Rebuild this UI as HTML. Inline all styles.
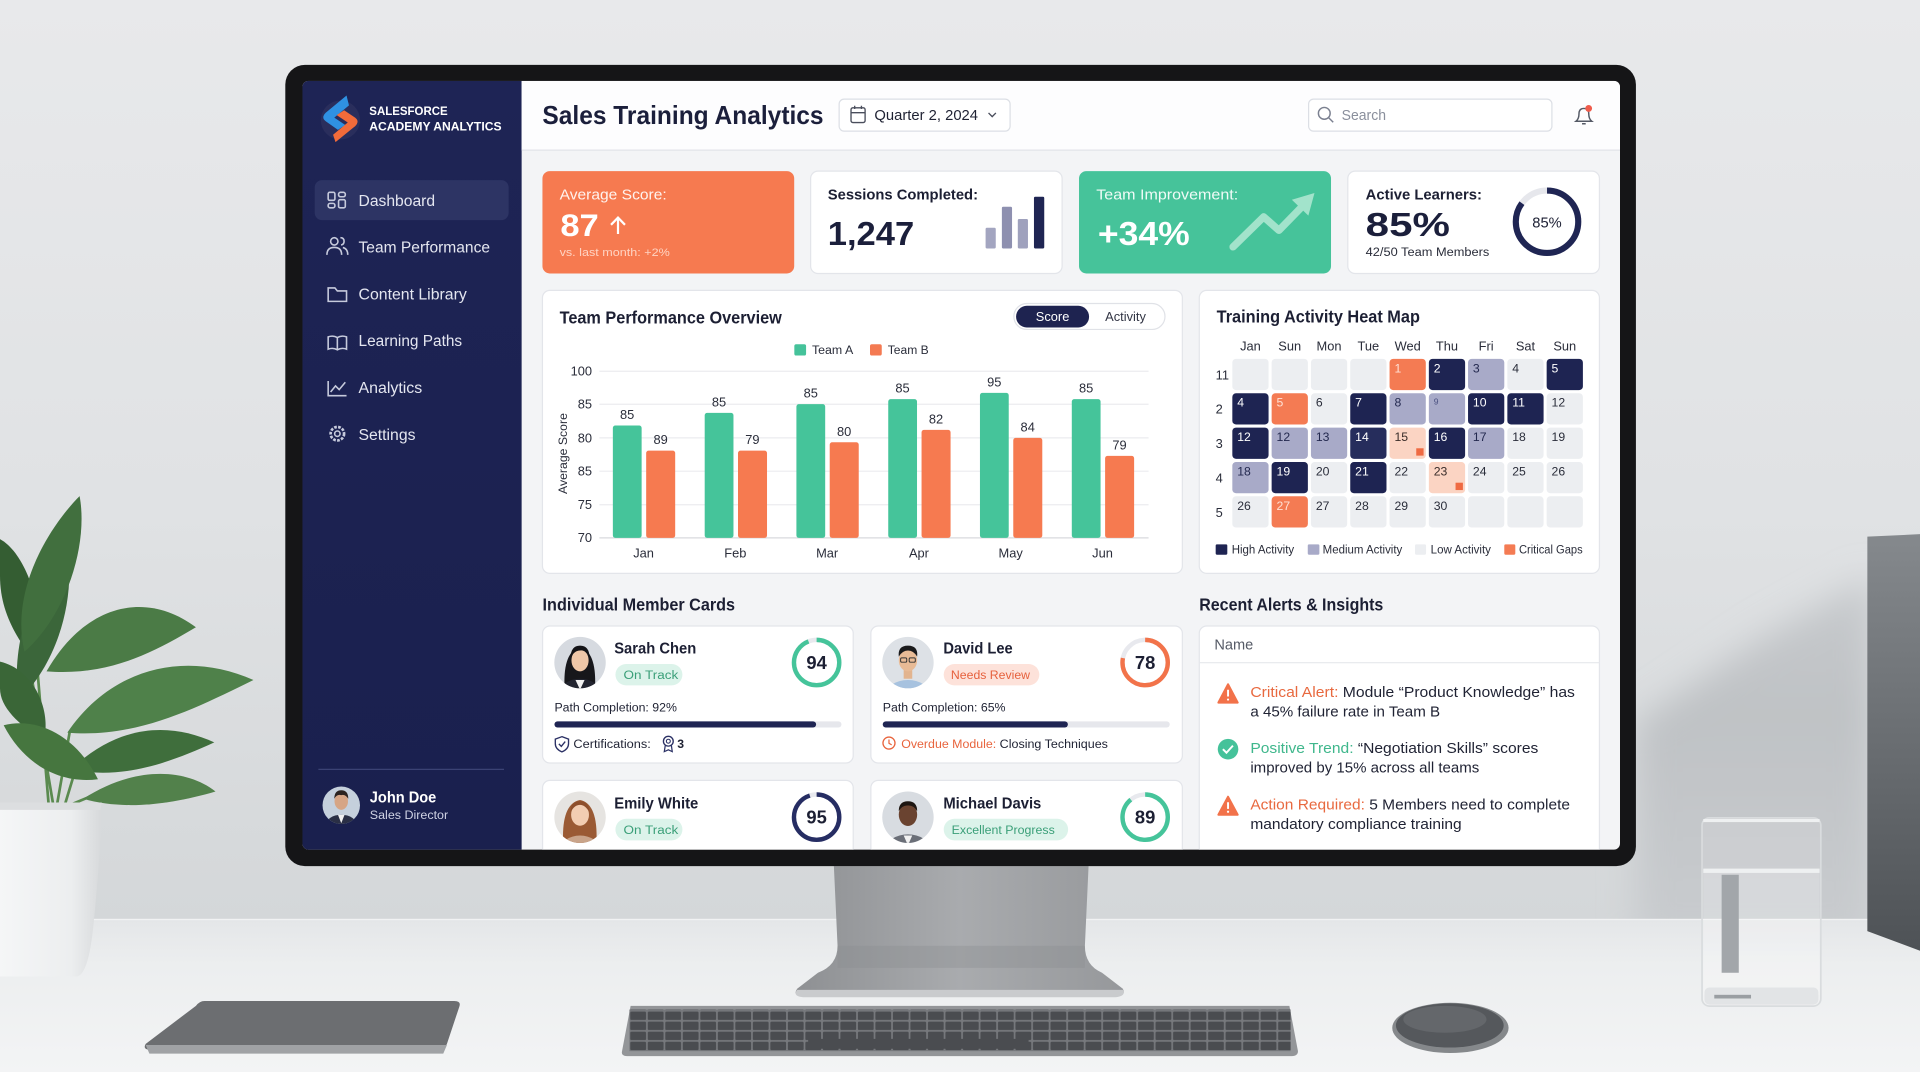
<!DOCTYPE html>
<html><head><meta charset="utf-8"><title>Sales Training Analytics</title>
<style>
html,body{margin:0;padding:0;background:#e4e6e8;overflow:hidden;width:1920px;height:1072px}
svg{display:block}
text{font-family:"Liberation Sans",Arial,sans-serif}
</style></head><body>
<svg width="1920" height="1072" viewBox="0 0 1568 875" preserveAspectRatio="none" xmlns="http://www.w3.org/2000/svg">
<defs>
 <linearGradient id="wall" x1="0" y1="0" x2="0" y2="1">
  <stop offset="0" stop-color="#e8e9eb"/><stop offset="0.55" stop-color="#e0e2e4"/><stop offset="1" stop-color="#d4d7d9"/>
 </linearGradient>
 <linearGradient id="desk" x1="0" y1="0" x2="0" y2="1">
  <stop offset="0" stop-color="#e4e6e8"/><stop offset="0.3" stop-color="#eceeef"/><stop offset="1" stop-color="#f3f4f5"/>
 </linearGradient>
 <linearGradient id="shadowR" gradientUnits="userSpaceOnUse" x1="0" y1="470" x2="0" y2="750">
  <stop offset="0" stop-color="#c7cacd"/><stop offset="0.4" stop-color="#bfc2c5"/><stop offset="1" stop-color="#c8cbce"/>
 </linearGradient>
 <filter id="blur" x="-20%" y="-20%" width="140%" height="140%"><feGaussianBlur stdDeviation="14"/></filter>
 <linearGradient id="box" x1="0" y1="0" x2="0" y2="1">
  <stop offset="0" stop-color="#85898d"/><stop offset="1" stop-color="#4e5256"/>
 </linearGradient>
 <linearGradient id="stand" x1="0" y1="0" x2="1" y2="0">
  <stop offset="0" stop-color="#8e9093"/><stop offset="0.5" stop-color="#a9abae"/><stop offset="1" stop-color="#96989b"/>
 </linearGradient>
 <linearGradient id="side" x1="0" y1="0" x2="0" y2="1">
  <stop offset="0" stop-color="#1e2455"/><stop offset="1" stop-color="#1a204e"/>
 </linearGradient>
 <linearGradient id="pot" x1="0" y1="0" x2="1" y2="0">
  <stop offset="0" stop-color="#f5f6f7"/><stop offset="0.7" stop-color="#eceeef"/><stop offset="1" stop-color="#d7d9db"/>
 </linearGradient>
 <pattern id="keys" width="14.3" height="8.2" patternUnits="userSpaceOnUse" x="514" y="825">
  <rect width="14.3" height="8.2" fill="#77797d"/><rect x="0.7" y="0.7" width="12.9" height="6.8" rx="1" fill="#4a4c50"/>
 </pattern>
 <clipPath id="scr"><rect x="247" y="66" width="1076" height="627.5" rx="5"/></clipPath>
 <clipPath id="av1"><circle cx="473.7" cy="540.8" r="21"/></clipPath>
 <clipPath id="av2"><circle cx="741.5" cy="540.8" r="21"/></clipPath>
 <clipPath id="av3"><circle cx="473.7" cy="667" r="21"/></clipPath>
 <clipPath id="av4"><circle cx="741.5" cy="667" r="21"/></clipPath>
 <clipPath id="av5"><circle cx="278.7" cy="657.3" r="15.3"/></clipPath>
 <clipPath id="wallclip"><rect x="0" y="0" width="1568" height="751"/></clipPath>
</defs>

<!-- background scene -->
<rect x="0" y="0" width="1568" height="751" fill="url(#wall)"/>
<g clip-path="url(#wallclip)">
 <path d="M1336,590 L1440,520 L1530,470 L1530,770 L1336,770 Z" fill="url(#shadowR)" filter="url(#blur)"/>
</g>
<rect x="0" y="750" width="1568" height="125" fill="url(#desk)"/>
<line x1="0" y1="750.5" x2="1568" y2="750.5" stroke="#f1f2f3" stroke-width="1"/>
<path d="M1525,438 L1568,436 L1568,776 L1525,760 Z" fill="url(#box)"/>

<!-- plant -->
<g>
 <path d="M40,660 L30,540 M46,660 L57,597 M52,660 L62,627 M44,660 L22,530 M50,660 L74,650" stroke="#5a8a4f" stroke-width="2.2" fill="none"/>
 <path d="M0,440 C22,452 38,500 32,545 C14,522 0,500 0,470 Z" fill="#345d32"/>
 <path d="M15,572 C8,520 30,470 55,445 C62,492 46,542 15,572 Z" fill="#3b663a"/>
 <path d="M20,532 C8,482 40,430 65,405 C72,442 56,500 20,532 Z" fill="#416f3e"/>
 <path d="M38,548 C70,492 120,482 160,512 C126,532 90,552 38,548 Z" fill="#4b7b46"/>
 <path d="M0,540 C26,546 42,577 36,604 C15,592 0,577 0,562 Z" fill="#3a6637"/>
 <path d="M55,598 C90,546 150,530 207,555 C162,577 112,603 55,598 Z" fill="#4f814a"/>
 <path d="M58,628 C98,590 140,590 175,606 C140,622 100,637 58,628 Z" fill="#3f6e3c"/>
 <path d="M3,592 C30,585 62,600 80,636 C50,640 20,625 3,592 Z" fill="#46763f"/>
 <path d="M68,652 C108,626 150,626 176,646 C142,656 102,662 68,652 Z" fill="#52814b"/>
 <path d="M0,655 L83,655 Q82,700 76,758 Q72,795 63,797 L0,797 Z" fill="url(#pot)"/>
 <path d="M0,655 L83,655 L82,661 L0,661 Z" fill="#dcdee0"/>
</g>

<!-- tablet -->
<path d="M167,817 L371,817 Q377,817 375,822 L365,852 Q363,857 357,857 L124,857 Q116,857 119,852 L160,821 Q163,817 167,817 Z" fill="#6c6e71"/>
<path d="M119,853 L365,853 L362,860 L122,860 Z" fill="#a0a2a5"/>

<!-- monitor stand -->
<path d="M681,707 L889,707 L886,772 Q886,788 900,794 L917,807 Q920,813 911,813 L656,813 Q647,813 651,807 L668,794 Q684,788 684,772 Z" fill="url(#stand)"/>
<path d="M651,808 L917,808 Q920,813 911,814 L656,814 Q647,813 651,808 Z" fill="#c9cbcd"/>
<rect x="684" y="772" width="202" height="18" fill="#8a8c8f" opacity="0.35"/>

<!-- keyboard -->
<path d="M515,821 L1053,821 L1060,858 Q1060,862 1055,862 L512,862 Q507,862 508,858 Z" fill="#939598"/>
<rect x="514" y="824" width="540" height="34" fill="url(#keys)"/>
<rect x="660" y="848" width="180" height="8" rx="1" fill="#4a4c50"/>

<!-- mouse -->
<ellipse cx="1184.5" cy="839" rx="47.5" ry="20.5" fill="#85888b"/>
<ellipse cx="1184" cy="837" rx="44" ry="18" fill="#55585c"/>
<ellipse cx="1180" cy="832" rx="34" ry="11" fill="#64676b"/>

<!-- glass -->
<rect x="1390" y="667.6" width="97" height="153.6" rx="6" fill="#ffffff" fill-opacity="0.12" stroke="#d9dcde" stroke-width="1.4"/>
<rect x="1391" y="712" width="95" height="100" fill="#ffffff" fill-opacity="0.18"/>
<rect x="1406" y="714" width="14" height="80" fill="#a2a6aa"/>
<rect x="1391" y="709" width="95" height="3.5" fill="#eef0f1"/>
<rect x="1391" y="668.5" width="95" height="2.5" fill="#eef0f1"/>
<rect x="1392" y="806" width="93" height="14" rx="4" fill="#e2e4e6"/>
<rect x="1400" y="812" width="30" height="3" fill="#9a9ea2"/>

<!-- monitor bezel -->
<rect x="233" y="53" width="1103" height="654" rx="16" fill="#151517"/>

<g clip-path="url(#scr)">
 <rect x="247" y="66" width="1076" height="628" fill="#f3f4f6"/>
 <!-- sidebar -->
 <rect x="247" y="66" width="179" height="628" fill="url(#side)"/>
 <circle cx="278" cy="98" r="16" fill="#2a2e5c"/>
 <path d="M283,78 L266,92 Q262,96 266,99 L276,106 L282,102 L273,96 L285,86 Z" fill="#2f91e2"/>
 <path d="M274,116 L290,103 Q294,99 290,96 L281,90 L275,94 L284,100 L272,110 Z" fill="#f26b3a"/>
 <text x="301.6" y="93.9" font-size="10" font-weight="700" fill="#ffffff" textLength="64" lengthAdjust="spacingAndGlyphs">SALESFORCE</text>
 <text x="301.6" y="106.4" font-size="10" font-weight="700" fill="#ffffff" textLength="108" lengthAdjust="spacingAndGlyphs">ACADEMY ANALYTICS</text>

 <rect x="257" y="147" width="158.4" height="32.7" rx="6" fill="#2d3464"/>
 <g fill="none" stroke="#c6cadc" stroke-width="1.3">
  <rect x="268" y="157" width="5.5" height="6.5" rx="1.2"/><rect x="276.5" y="157" width="5.5" height="3.6" rx="1.5"/>
  <rect x="268" y="166" width="5.5" height="3.6" rx="1.5"/><rect x="276.5" y="163" width="5.5" height="6.6" rx="1.2"/>
  <circle cx="273" cy="197" r="3"/><path d="M267,208 Q267,202 273,202 Q279,202 279,208"/><path d="M278,194 Q281,194 281,197 Q281,199.5 278.5,200 M280,202 Q284,203 284,208"/>
  <path d="M268,235 L273.5,235 L275.5,237.5 L283,237.5 L283,246 L268,246 Z"/>
  <path d="M268,275 L268,285 Q272,283.5 275.5,285.5 Q279,283.5 283,285 L283,275 Q279,273.5 275.5,275.5 Q272,273.5 268,275 Z M275.5,275.5 L275.5,285.5"/>
  <path d="M268,311 L268,323 L283,323 M270,320 L274,315 L277,318 L282,312"/>
  <circle cx="275.5" cy="354" r="2.2"/><circle cx="275.5" cy="354" r="5.5" stroke-dasharray="2.2 1.1" stroke-width="2.2"/>
 </g>
 <g font-size="13" fill="#e4e6f0">
  <text x="292.8" y="168" textLength="62.5" lengthAdjust="spacingAndGlyphs">Dashboard</text>
  <text x="292.8" y="206.3" textLength="107.4" lengthAdjust="spacingAndGlyphs">Team Performance</text>
  <text x="292.8" y="244.4" textLength="88.4" lengthAdjust="spacingAndGlyphs">Content Library</text>
  <text x="292.8" y="282.6" textLength="84.6" lengthAdjust="spacingAndGlyphs">Learning Paths</text>
  <text x="292.8" y="320.8" textLength="52" lengthAdjust="spacingAndGlyphs">Analytics</text>
  <text x="292.8" y="359" textLength="46.5" lengthAdjust="spacingAndGlyphs">Settings</text>
 </g>
 <line x1="260" y1="628" x2="411.6" y2="628" stroke="#3b4274" stroke-width="1"/>
 <g clip-path="url(#av5)">
  <rect x="262" y="641" width="34" height="34" fill="#c5d0dc"/>
  <ellipse cx="278.7" cy="674" rx="13" ry="9" fill="#2a2f45"/>
  <path d="M276,665 L278.7,672 L281.4,665 Z" fill="#f0f0f0"/>
  <ellipse cx="278.7" cy="654" rx="5.5" ry="7" fill="#d6a585"/>
  <path d="M273,652 Q273,645 278.7,645 Q284.5,645 284.4,652 Q282,648 278.7,649 Q275,648 273,652 Z" fill="#2b2320"/>
 </g>
 <text x="302" y="655" font-size="12.5" font-weight="700" fill="#ffffff" textLength="54.3" lengthAdjust="spacingAndGlyphs">John Doe</text>
 <text x="302" y="668.5" font-size="10" fill="#d0d3e4" textLength="64" lengthAdjust="spacingAndGlyphs">Sales Director</text>

 <!-- header -->
 <rect x="426" y="66" width="897" height="56.5" fill="#fdfdfe"/>
 <line x1="426" y1="122.5" x2="1323" y2="122.5" stroke="#e2e4e9" stroke-width="1"/>
 <text x="443" y="101.3" font-size="21" font-weight="700" fill="#1b1f3b" textLength="229.6" lengthAdjust="spacingAndGlyphs">Sales Training Analytics</text>
 <rect x="685.3" y="80.9" width="139.6" height="26.1" rx="4" fill="#fff" stroke="#dcdfe5"/>
 <g fill="none" stroke="#4a4e5c" stroke-width="1.1">
  <rect x="695" y="88" width="11.5" height="12" rx="1.5"/><line x1="695" y1="92" x2="706.5" y2="92"/><line x1="698" y1="86.3" x2="698" y2="89"/><line x1="703.5" y1="86.3" x2="703.5" y2="89"/>
  <polyline points="807.3,92.2 810.3,95.2 813.3,92.2"/>
 </g>
 <text x="714.1" y="98" font-size="12" fill="#1f2233" textLength="84.6" lengthAdjust="spacingAndGlyphs">Quarter 2, 2024</text>
 <rect x="1068.7" y="80.9" width="198.7" height="26.1" rx="4" fill="#fff" stroke="#dcdfe5"/>
 <circle cx="1081.5" cy="92.5" r="4.8" fill="none" stroke="#7b8090" stroke-width="1.2"/>
 <line x1="1085" y1="96" x2="1088.8" y2="99.8" stroke="#7b8090" stroke-width="1.2"/>
 <text x="1095.7" y="98" font-size="12" fill="#8a8f9c" textLength="36.2" lengthAdjust="spacingAndGlyphs">Search</text>
 <path d="M1287,99 Q1289.5,97 1289.5,93 Q1289.5,88.5 1293.5,88.5 Q1297.5,88.5 1297.5,93 Q1297.5,97 1300,99 Z M1292,101 L1295,101" fill="none" stroke="#555a66" stroke-width="1.2"/>
 <circle cx="1297.4" cy="88.5" r="2.8" fill="#ef5b4b"/>

 <!-- KPI cards -->
 <rect x="443" y="139.7" width="205.6" height="83.5" rx="6" fill="#f67a50"/>
 <text x="457" y="162.8" font-size="12" fill="#fff3ee" textLength="87.5" lengthAdjust="spacingAndGlyphs">Average Score:</text>
 <text x="457.6" y="192.5" font-size="26" font-weight="700" fill="#ffffff" textLength="31.4" lengthAdjust="spacingAndGlyphs">87</text>
 <g stroke="#fff" stroke-width="1.8" fill="none"><line x1="504.7" y1="191" x2="504.7" y2="178"/><polyline points="499,183.5 504.7,177.6 510.4,183.5"/></g>
 <text x="457" y="209" font-size="9" fill="#ffd3c2" textLength="90" lengthAdjust="spacingAndGlyphs">vs. last month: +2%</text>

 <rect x="662" y="139.7" width="205.4" height="83.5" rx="6" fill="#fff" stroke="#e3e5ea"/>
 <text x="676" y="162.8" font-size="12" font-weight="700" fill="#1c1f33" textLength="122.7" lengthAdjust="spacingAndGlyphs">Sessions Completed:</text>
 <text x="676" y="200" font-size="27" font-weight="700" fill="#1b1f3b" textLength="70.6" lengthAdjust="spacingAndGlyphs">1,247</text>
 <rect x="804.9" y="185.9" width="8.3" height="16.9" rx="1" fill="#a3a5c0"/>
 <rect x="818.2" y="168.8" width="8.3" height="34" rx="1" fill="#8e90b0"/>
 <rect x="831.2" y="178.8" width="8.3" height="24" rx="1" fill="#9fa1bd"/>
 <rect x="844.4" y="160.6" width="8.4" height="42.2" rx="1" fill="#1f2553"/>

 <rect x="881.2" y="139.7" width="205.8" height="83.5" rx="6" fill="#46c39a"/>
 <text x="895.3" y="162.8" font-size="12" fill="#f0fbf7" textLength="115.9" lengthAdjust="spacingAndGlyphs">Team Improvement:</text>
 <text x="896.6" y="200" font-size="27" font-weight="700" fill="#ffffff" textLength="75" lengthAdjust="spacingAndGlyphs">+34%</text>
 <polyline points="1007,201.5 1032,177 1044.5,188 1065,167" fill="none" stroke="#a2e3cb" stroke-width="6" stroke-linejoin="round" stroke-linecap="round"/>
 <polygon points="1073.5,157.5 1055,163 1068.5,176" fill="#a2e3cb"/>

 <rect x="1100.7" y="139.7" width="205.5" height="83.5" rx="6" fill="#fff" stroke="#e3e5ea"/>
 <text x="1115.3" y="162.8" font-size="12" font-weight="700" fill="#1c1f33" textLength="95" lengthAdjust="spacingAndGlyphs">Active Learners:</text>
 <text x="1115.3" y="192.5" font-size="27" font-weight="700" fill="#1b1f3b" textLength="68.8" lengthAdjust="spacingAndGlyphs">85%</text>
 <text x="1115.3" y="209" font-size="10" fill="#2a2d3a" textLength="101" lengthAdjust="spacingAndGlyphs">42/50 Team Members</text>
 <circle cx="1263.4" cy="181" r="25.5" fill="none" stroke="#e6e7ec" stroke-width="5"/>
 <circle cx="1263.4" cy="181" r="25.5" fill="none" stroke="#1f2553" stroke-width="5" stroke-dasharray="136.2 200" transform="rotate(-90 1263.4 181)"/>
 <text x="1263.4" y="185.5" font-size="12" fill="#1c1f33" text-anchor="middle">85%</text>

 <!-- chart panel -->
 <rect x="443" y="237" width="522.6" height="231" rx="6" fill="#fff" stroke="#e3e5ea"/>
 <text x="457" y="264" font-size="14.5" font-weight="700" fill="#1c1f33" textLength="181.5" lengthAdjust="spacingAndGlyphs">Team Performance Overview</text>
 <rect x="828" y="247.7" width="123.4" height="21.2" rx="10.6" fill="#fff" stroke="#e0e2e7"/>
 <rect x="829.8" y="249.6" width="59.6" height="17.7" rx="8.8" fill="#1e2350"/>
 <text x="859.6" y="262" font-size="10.5" fill="#fff" text-anchor="middle">Score</text>
 <text x="919.2" y="262" font-size="10.5" fill="#333645" text-anchor="middle">Activity</text>
 <rect x="648.7" y="281" width="9.6" height="9.2" rx="1.5" fill="#45c29a"/>
 <text x="663.1" y="289" font-size="10" fill="#2a2d3a" textLength="33.7" lengthAdjust="spacingAndGlyphs">Team A</text>
 <rect x="710.5" y="281" width="9.6" height="9.2" rx="1.5" fill="#f47a52"/>
 <text x="725" y="289" font-size="10" fill="#2a2d3a" textLength="33.4" lengthAdjust="spacingAndGlyphs">Team B</text>
 <g stroke="#ebecef" stroke-width="1">
  <line x1="489.5" y1="303" x2="938" y2="303"/><line x1="489.5" y1="330" x2="938" y2="330"/>
  <line x1="489.5" y1="357.4" x2="938" y2="357.4"/><line x1="489.5" y1="384.6" x2="938" y2="384.6"/>
  <line x1="489.5" y1="412" x2="938" y2="412"/><line x1="489.5" y1="439" x2="938" y2="439" stroke="#d8dade"/>
 </g>
 <g font-size="10.5" fill="#2a2d3a" text-anchor="end">
  <text x="483.5" y="306.5">100</text><text x="483.5" y="333.5">85</text><text x="483.5" y="361">80</text>
  <text x="483.5" y="388">85</text><text x="483.5" y="415.5">75</text><text x="483.5" y="442.5">70</text>
 </g>
 <text transform="translate(463.2,370.2) rotate(-90)" font-size="10" fill="#2a2d3a" text-anchor="middle" textLength="66" lengthAdjust="spacingAndGlyphs">Average Score</text>
 <g fill="#45c49a">
  <rect x="500.5" y="347.3" width="23.5" height="91.7" rx="2"/>
  <rect x="575.5" y="337" width="23.5" height="102" rx="2"/>
  <rect x="650.4" y="329.9" width="23.5" height="109.1" rx="2"/>
  <rect x="725.4" y="325.8" width="23.5" height="113.2" rx="2"/>
  <rect x="800.3" y="320.7" width="23.5" height="118.3" rx="2"/>
  <rect x="875.3" y="325.8" width="23.5" height="113.2" rx="2"/>
 </g>
 <g fill="#f67a50">
  <rect x="527.7" y="367.8" width="23.7" height="71.2" rx="2"/>
  <rect x="602.7" y="367.8" width="23.7" height="71.2" rx="2"/>
  <rect x="677.6" y="361" width="23.7" height="78" rx="2"/>
  <rect x="752.6" y="350.9" width="23.7" height="88.1" rx="2"/>
  <rect x="827.5" y="357.4" width="23.7" height="81.6" rx="2"/>
  <rect x="902.5" y="372.1" width="23.7" height="66.9" rx="2"/>
 </g>
 <g font-size="10.5" fill="#2a2d3a" text-anchor="middle">
  <text x="512.2" y="342">85</text><text x="539.5" y="362.5">89</text>
  <text x="587.2" y="331.7">85</text><text x="614.5" y="362.5">79</text>
  <text x="662.1" y="324.6">85</text><text x="689.4" y="355.7">80</text>
  <text x="737.1" y="320.5">85</text><text x="764.4" y="345.6">82</text>
  <text x="812" y="315.4">95</text><text x="839.3" y="352.1">84</text>
  <text x="887" y="320.5">85</text><text x="914.3" y="366.8">79</text>
  <text x="525.6" y="455">Jan</text><text x="600.5" y="455">Feb</text><text x="675.5" y="455">Mar</text>
  <text x="750.5" y="455">Apr</text><text x="825.4" y="455">May</text><text x="900.4" y="455">Jun</text>
 </g>

 <!-- heatmap panel -->
 <rect x="979.4" y="237" width="326.8" height="231" rx="6" fill="#fff" stroke="#e3e5ea"/>
 <text x="993.6" y="263.2" font-size="14.5" font-weight="700" fill="#1c1f33" textLength="166" lengthAdjust="spacingAndGlyphs">Training Activity Heat Map</text>
 <g font-size="10.5" fill="#2a2d3a" text-anchor="middle">
  <text x="1021.2" y="286">Jan</text><text x="1053.3" y="286">Sun</text><text x="1085.4" y="286">Mon</text>
  <text x="1117.5" y="286">Tue</text><text x="1149.6" y="286">Wed</text><text x="1181.7" y="286">Thu</text>
  <text x="1213.7" y="286">Fri</text><text x="1245.8" y="286">Sat</text><text x="1277.9" y="286">Sun</text>
 </g>
 <g font-size="10.5" fill="#2a2d3a">
  <text x="992.8" y="309.6">11</text><text x="992.8" y="337.7">2</text><text x="992.8" y="365.7">3</text>
  <text x="992.8" y="393.8">4</text><text x="992.8" y="421.8">5</text>
 </g>
 <g>
  <rect x="1006.4" y="292.9" width="29.6" height="25.5" rx="3" fill="#eceef1"/>
  <rect x="1038.5" y="292.9" width="29.6" height="25.5" rx="3" fill="#eceef1"/>
  <rect x="1070.6" y="292.9" width="29.6" height="25.5" rx="3" fill="#eceef1"/>
  <rect x="1102.7" y="292.9" width="29.6" height="25.5" rx="3" fill="#eceef1"/>
  <rect x="1134.8" y="292.9" width="29.6" height="25.5" rx="3" fill="#f47b53"/>
  <rect x="1166.9" y="292.9" width="29.6" height="25.5" rx="3" fill="#1e2452"/>
  <rect x="1198.9" y="292.9" width="29.6" height="25.5" rx="3" fill="#a8aac8"/>
  <rect x="1231" y="292.9" width="29.6" height="25.5" rx="3" fill="#eceef1"/>
  <rect x="1263.1" y="292.9" width="29.6" height="25.5" rx="3" fill="#1e2452"/>
 </g>
 <g>
  <rect x="1006.4" y="321" width="29.6" height="25.5" rx="3" fill="#1e2452"/>
  <rect x="1038.5" y="321" width="29.6" height="25.5" rx="3" fill="#f47b53"/>
  <rect x="1070.6" y="321" width="29.6" height="25.5" rx="3" fill="#eceef1"/>
  <rect x="1102.7" y="321" width="29.6" height="25.5" rx="3" fill="#1e2452"/>
  <rect x="1134.8" y="321" width="29.6" height="25.5" rx="3" fill="#a8aac8"/>
  <rect x="1166.9" y="321" width="29.6" height="25.5" rx="3" fill="#a8aac8"/>
  <rect x="1198.9" y="321" width="29.6" height="25.5" rx="3" fill="#1e2452"/>
  <rect x="1231" y="321" width="29.6" height="25.5" rx="3" fill="#1e2452"/>
  <rect x="1263.1" y="321" width="29.6" height="25.5" rx="3" fill="#eceef1"/>
 </g>
 <g>
  <rect x="1006.4" y="349" width="29.6" height="25.5" rx="3" fill="#1e2452"/>
  <rect x="1038.5" y="349" width="29.6" height="25.5" rx="3" fill="#a8aac8"/>
  <rect x="1070.6" y="349" width="29.6" height="25.5" rx="3" fill="#a8aac8"/>
  <rect x="1102.7" y="349" width="29.6" height="25.5" rx="3" fill="#262d5c"/>
  <rect x="1134.8" y="349" width="29.6" height="25.5" rx="3" fill="#fbd4c3"/>
  <rect x="1166.9" y="349" width="29.6" height="25.5" rx="3" fill="#1e2452"/>
  <rect x="1198.9" y="349" width="29.6" height="25.5" rx="3" fill="#a8aac8"/>
  <rect x="1231" y="349" width="29.6" height="25.5" rx="3" fill="#eceef1"/>
  <rect x="1263.1" y="349" width="29.6" height="25.5" rx="3" fill="#eceef1"/>
 </g>
 <g>
  <rect x="1006.4" y="377.1" width="29.6" height="25.5" rx="3" fill="#a8aac8"/>
  <rect x="1038.5" y="377.1" width="29.6" height="25.5" rx="3" fill="#1e2452"/>
  <rect x="1070.6" y="377.1" width="29.6" height="25.5" rx="3" fill="#eceef1"/>
  <rect x="1102.7" y="377.1" width="29.6" height="25.5" rx="3" fill="#1e2452"/>
  <rect x="1134.8" y="377.1" width="29.6" height="25.5" rx="3" fill="#eceef1"/>
  <rect x="1166.9" y="377.1" width="29.6" height="25.5" rx="3" fill="#fbd4c3"/>
  <rect x="1198.9" y="377.1" width="29.6" height="25.5" rx="3" fill="#eceef1"/>
  <rect x="1231" y="377.1" width="29.6" height="25.5" rx="3" fill="#eceef1"/>
  <rect x="1263.1" y="377.1" width="29.6" height="25.5" rx="3" fill="#eceef1"/>
 </g>
 <g>
  <rect x="1006.4" y="405.1" width="29.6" height="25.5" rx="3" fill="#eceef1"/>
  <rect x="1038.5" y="405.1" width="29.6" height="25.5" rx="3" fill="#f47b53"/>
  <rect x="1070.6" y="405.1" width="29.6" height="25.5" rx="3" fill="#eceef1"/>
  <rect x="1102.7" y="405.1" width="29.6" height="25.5" rx="3" fill="#eceef1"/>
  <rect x="1134.8" y="405.1" width="29.6" height="25.5" rx="3" fill="#eceef1"/>
  <rect x="1166.9" y="405.1" width="29.6" height="25.5" rx="3" fill="#eceef1"/>
  <rect x="1198.9" y="405.1" width="29.6" height="25.5" rx="3" fill="#eceef1"/>
  <rect x="1231" y="405.1" width="29.6" height="25.5" rx="3" fill="#eceef1"/>
  <rect x="1263.1" y="405.1" width="29.6" height="25.5" rx="3" fill="#eceef1"/>
 </g>
 <rect x="1156.6" y="365.9" width="6" height="6" fill="#ef6a42"/>
 <rect x="1188.7" y="394" width="6" height="6" fill="#ef6a42"/>
 <g font-size="10">
  <text x="1138.8" y="303.9" fill="#ffe1d5">1</text><text x="1170.9" y="303.9" fill="#fff">2</text>
  <text x="1202.9" y="303.9" fill="#23294f">3</text><text x="1235" y="303.9" fill="#2a2d3a">4</text>
  <text x="1267.1" y="303.9" fill="#fff">5</text>
  <text x="1010.4" y="332" fill="#fff">4</text><text x="1042.5" y="332" fill="#ffe1d5">5</text>
  <text x="1074.6" y="332" fill="#2a2d3a">6</text><text x="1106.7" y="332" fill="#fff">7</text>
  <text x="1138.8" y="332" fill="#23294f">8</text><text x="1170.9" y="330" fill="#4a5080" font-size="7">9</text>
  <text x="1202.9" y="332" fill="#fff">10</text><text x="1235" y="332" fill="#fff">11</text>
  <text x="1267.1" y="332" fill="#2a2d3a">12</text>
  <text x="1010.4" y="360" fill="#fff">12</text><text x="1042.5" y="360" fill="#23294f">12</text>
  <text x="1074.6" y="360" fill="#23294f">13</text><text x="1106.7" y="360" fill="#fff">14</text>
  <text x="1138.8" y="360" fill="#3a2d2a">15</text><text x="1170.9" y="360" fill="#fff">16</text>
  <text x="1202.9" y="360" fill="#23294f">17</text><text x="1235" y="360" fill="#2a2d3a">18</text>
  <text x="1267.1" y="360" fill="#2a2d3a">19</text>
  <text x="1010.4" y="388.1" fill="#23294f">18</text><text x="1042.5" y="388.1" fill="#fff">19</text>
  <text x="1074.6" y="388.1" fill="#2a2d3a">20</text><text x="1106.7" y="388.1" fill="#fff">21</text>
  <text x="1138.8" y="388.1" fill="#2a2d3a">22</text><text x="1170.9" y="388.1" fill="#3a2d2a">23</text>
  <text x="1202.9" y="388.1" fill="#2a2d3a">24</text><text x="1235" y="388.1" fill="#2a2d3a">25</text>
  <text x="1267.1" y="388.1" fill="#2a2d3a">26</text>
  <text x="1010.4" y="416.1" fill="#2a2d3a">26</text><text x="1042.5" y="416.1" fill="#ffe1d5">27</text>
  <text x="1074.6" y="416.1" fill="#2a2d3a">27</text><text x="1106.7" y="416.1" fill="#2a2d3a">28</text>
  <text x="1138.8" y="416.1" fill="#2a2d3a">29</text><text x="1170.9" y="416.1" fill="#2a2d3a">30</text>
 </g>
 <rect x="992.8" y="444.3" width="9.5" height="8.5" rx="1" fill="#1e2452"/>
 <rect x="1068" y="444.3" width="9.5" height="8.5" rx="1" fill="#a8aac8"/>
 <rect x="1155.6" y="444.3" width="9" height="8.5" rx="1" fill="#eceef1"/>
 <rect x="1228.5" y="444.3" width="9" height="8.5" rx="1" fill="#f47b53"/>
 <g font-size="9.5" fill="#2a2d3a">
  <text x="1005.9" y="451.9" textLength="51" lengthAdjust="spacingAndGlyphs">High Activity</text>
  <text x="1080.2" y="451.9" textLength="65" lengthAdjust="spacingAndGlyphs">Medium Activity</text>
  <text x="1168.4" y="451.9" textLength="49.2" lengthAdjust="spacingAndGlyphs">Low Activity</text>
  <text x="1240.5" y="451.9" textLength="52" lengthAdjust="spacingAndGlyphs">Critical Gaps</text>
 </g>

 <!-- member cards -->
 <text x="443.1" y="498.2" font-size="14" font-weight="700" fill="#1c1f33" textLength="157.2" lengthAdjust="spacingAndGlyphs">Individual Member Cards</text>
 <rect x="443.1" y="511" width="253.7" height="111.8" rx="6" fill="#fff" stroke="#e3e5ea"/>
 <rect x="711.2" y="511" width="254.4" height="111.8" rx="6" fill="#fff" stroke="#e3e5ea"/>
 <rect x="443.1" y="637" width="253.7" height="90" rx="6" fill="#fff" stroke="#e3e5ea"/>
 <rect x="711.2" y="637" width="254.4" height="90" rx="6" fill="#fff" stroke="#e3e5ea"/>

 <g clip-path="url(#av1)">
  <rect x="452" y="519" width="44" height="44" fill="#d6dae0"/>
  <path d="M461,560 Q460,532 473.7,528 Q487,532 486,560 Z" fill="#17171b"/>
  <ellipse cx="473.7" cy="566" rx="17" ry="12" fill="#22242f"/>
  <path d="M470,555 L473.7,563 L477.4,555 Z" fill="#f2f2f2"/>
  <ellipse cx="473.7" cy="539" rx="7" ry="9" fill="#efc7a8"/>
  <path d="M466,537 Q466,527 473.7,527 Q481.5,527 481.4,537 Q478,530 473.7,531 Q469,531 466,537 Z" fill="#141417"/>
 </g>
 <g clip-path="url(#av2)">
  <rect x="720" y="519" width="44" height="44" fill="#dde1e6"/>
  <ellipse cx="741.5" cy="567" rx="18" ry="12" fill="#a7c2df"/>
  <rect x="738" y="546" width="7" height="8" fill="#e2b48f"/>
  <ellipse cx="741.5" cy="539" rx="7.5" ry="9" fill="#e8bb96"/>
  <path d="M734,536 Q733,527 741.5,527 Q750,527 749,536 Q746,531 741.5,531 Q737,531 734,536 Z" fill="#1a1a1c"/>
  <g fill="none" stroke="#333" stroke-width="0.8"><rect x="735.5" y="537" width="5" height="3.5" rx="1"/><rect x="742.5" y="537" width="5" height="3.5" rx="1"/></g>
 </g>
 <g clip-path="url(#av3)">
  <rect x="452" y="645" width="44" height="44" fill="#e6e4e1"/>
  <path d="M460,690 Q458,656 473.7,653 Q489,656 487,690 Z" fill="#9a5a34"/>
  <ellipse cx="473.7" cy="693" rx="16" ry="11" fill="#c9a48a"/>
  <ellipse cx="473.7" cy="665" rx="7.3" ry="9" fill="#f2cdb2"/>
  <path d="M466,663 Q466,654 473.7,654 Q481,654 481.3,663 Q478,657 473.7,657 Q469,657 466,663 Z" fill="#8e4f2c"/>
 </g>
 <g clip-path="url(#av4)">
  <rect x="720" y="645" width="44" height="44" fill="#d8dce1"/>
  <ellipse cx="741.5" cy="693" rx="18" ry="12" fill="#6b6f78"/>
  <path d="M738,682 L741.5,690 L745,682 Z" fill="#f2f2f2"/>
  <ellipse cx="741.5" cy="665" rx="7.5" ry="9.2" fill="#6a4330"/>
  <path d="M734,662 Q734,654 741.5,654 Q749,654 749,662 Q746,657 741.5,657.5 Q737,657 734,662 Z" fill="#1d1612"/>
 </g>

 <g font-size="13" font-weight="700" fill="#1c1f33">
  <text x="501.6" y="533.5" textLength="67" lengthAdjust="spacingAndGlyphs">Sarah Chen</text>
  <text x="770.4" y="533.5" textLength="56.6" lengthAdjust="spacingAndGlyphs">David Lee</text>
  <text x="501.6" y="660.1" textLength="68.7" lengthAdjust="spacingAndGlyphs">Emily White</text>
  <text x="770.4" y="660.1" textLength="80" lengthAdjust="spacingAndGlyphs">Michael Davis</text>
 </g>
 <rect x="502.6" y="542" width="54.7" height="17.4" rx="8.7" fill="#dcf3ea"/>
 <rect x="770.7" y="542" width="78.1" height="17.4" rx="8.7" fill="#fde2da"/>
 <rect x="502.6" y="668.3" width="54.7" height="17.6" rx="8.8" fill="#dcf3ea"/>
 <rect x="770.7" y="668.3" width="101.6" height="17.6" rx="8.8" fill="#dcf3ea"/>
 <g font-size="10">
  <text x="509.2" y="554.2" fill="#3a9f78" textLength="44.7" lengthAdjust="spacingAndGlyphs">On Track</text>
  <text x="776.6" y="554.2" fill="#e6613d" textLength="64.6" lengthAdjust="spacingAndGlyphs">Needs Review</text>
  <text x="509.2" y="680.6" fill="#3a9f78" textLength="44.7" lengthAdjust="spacingAndGlyphs">On Track</text>
  <text x="777.2" y="680.6" fill="#3a9f78" textLength="84.2" lengthAdjust="spacingAndGlyphs">Excellent Progress</text>
 </g>
 <g fill="none" stroke-width="3.6">
  <circle cx="666.9" cy="540.8" r="18.5" stroke="#e8e9ee"/>
  <circle cx="666.9" cy="540.8" r="18.5" stroke="#45c49a" stroke-dasharray="109.3 200" transform="rotate(-90 666.9 540.8)"/>
  <circle cx="935.2" cy="540.8" r="18.5" stroke="#e8e9ee"/>
  <circle cx="935.2" cy="540.8" r="18.5" stroke="#f2734a" stroke-dasharray="90.7 200" transform="rotate(-90 935.2 540.8)"/>
  <circle cx="666.9" cy="667" r="18.5" stroke="#e8e9ee"/>
  <circle cx="666.9" cy="667" r="18.5" stroke="#262d63" stroke-dasharray="110.4 200" transform="rotate(-90 666.9 667)"/>
  <circle cx="935.2" cy="667" r="18.5" stroke="#e8e9ee"/>
  <circle cx="935.2" cy="667" r="18.5" stroke="#45c49a" stroke-dasharray="103.4 200" transform="rotate(-90 935.2 667)"/>
 </g>
 <g font-size="15" font-weight="700" fill="#1c1f33" text-anchor="middle">
  <text x="666.9" y="546">94</text><text x="935.2" y="546">78</text>
  <text x="666.9" y="672.2">95</text><text x="935.2" y="672.2">89</text>
 </g>
 <g font-size="10" fill="#1f2233">
  <text x="452.8" y="580.6" textLength="100" lengthAdjust="spacingAndGlyphs">Path Completion: 92%</text>
  <text x="720.9" y="580.6" textLength="100.3" lengthAdjust="spacingAndGlyphs">Path Completion: 65%</text>
 </g>
 <rect x="452.8" y="588.8" width="234.4" height="5" rx="2.5" fill="#e6e7ec"/>
 <rect x="452.8" y="588.8" width="213.7" height="5" rx="2.5" fill="#1f2553"/>
 <rect x="720.9" y="588.8" width="234.4" height="5" rx="2.5" fill="#e6e7ec"/>
 <rect x="720.9" y="588.8" width="151.2" height="5" rx="2.5" fill="#1f2553"/>
 <path d="M458.9,601.3 L464.3,603.3 L464.3,607 Q464.3,611.5 458.9,613.7 Q453.5,611.5 453.5,607 L453.5,603.3 Z" fill="none" stroke="#2b3165" stroke-width="1.1"/>
 <polyline points="456.4,607.2 458.4,609.2 461.6,605.3" fill="none" stroke="#2b3165" stroke-width="1.1"/>
 <text x="468.3" y="610.6" font-size="10" fill="#1f2233" textLength="63.2" lengthAdjust="spacingAndGlyphs">Certifications:</text>
 <circle cx="545.8" cy="605" r="4" fill="none" stroke="#2b3165" stroke-width="1.1"/>
 <circle cx="545.8" cy="605" r="1.6" fill="none" stroke="#2b3165" stroke-width="0.9"/>
 <path d="M543.3,608.5 L542.5,613.5 L545.8,612 L549,613.5 L548.3,608.5" fill="none" stroke="#2b3165" stroke-width="1"/>
 <text x="553.1" y="610.6" font-size="10" font-weight="700" fill="#1f2233">3</text>
 <circle cx="726" cy="606.5" r="4.9" fill="none" stroke="#e8643d" stroke-width="1.1"/>
 <polyline points="726,603.6 726,606.7 728.2,608" fill="none" stroke="#e8643d" stroke-width="1"/>
 <text x="736" y="610.6" font-size="10" fill="#e8643d" textLength="77.6" lengthAdjust="spacingAndGlyphs">Overdue Module:</text>
 <text x="816.4" y="610.6" font-size="10" fill="#1f2233" textLength="88.4" lengthAdjust="spacingAndGlyphs">Closing Techniques</text>

 <!-- alerts -->
 <text x="979.4" y="498.2" font-size="14" font-weight="700" fill="#1c1f33" textLength="150.3" lengthAdjust="spacingAndGlyphs">Recent Alerts &amp; Insights</text>
 <rect x="979.4" y="511" width="326.8" height="220" rx="6" fill="#fff" stroke="#e3e5ea"/>
 <line x1="979.4" y1="540.9" x2="1306.2" y2="540.9" stroke="#e6e8ec"/>
 <text x="991.7" y="530" font-size="12" fill="#555a66" textLength="31.8" lengthAdjust="spacingAndGlyphs">Name</text>
 <path d="M1002.9,558.5 L1010.8,573.5 L995,573.5 Z" fill="#f2724a" stroke="#f2724a" stroke-width="1.6" stroke-linejoin="round"/>
 <line x1="1002.9" y1="563" x2="1002.9" y2="568.5" stroke="#fff" stroke-width="1.6"/><circle cx="1002.9" cy="571" r="0.9" fill="#fff"/>
 <circle cx="1002.9" cy="611.5" r="8.4" fill="#45c29a"/>
 <polyline points="998.7,611.5 1001.6,614.4 1006.9,608.6" fill="none" stroke="#fff" stroke-width="1.6"/>
 <path d="M1002.9,650.3 L1010.8,665 L995,665 Z" fill="#f2724a" stroke="#f2724a" stroke-width="1.6" stroke-linejoin="round"/>
 <line x1="1002.9" y1="654.8" x2="1002.9" y2="660.2" stroke="#fff" stroke-width="1.6"/><circle cx="1002.9" cy="662.6" r="0.9" fill="#fff"/>
 <g font-size="12" fill="#1f2233">
  <text x="1021.1" y="568.9" textLength="265.1" lengthAdjust="spacingAndGlyphs"><tspan fill="#e8693f">Critical Alert:</tspan> Module “Product Knowledge” has</text>
  <text x="1021.1" y="584.7" textLength="155" lengthAdjust="spacingAndGlyphs">a 45% failure rate in Team B</text>
  <text x="1021.1" y="614.7" textLength="235.2" lengthAdjust="spacingAndGlyphs"><tspan fill="#3fb78c">Positive Trend:</tspan> “Negotiation Skills” scores</text>
  <text x="1021.1" y="630.7" textLength="187" lengthAdjust="spacingAndGlyphs">improved by 15% across all teams</text>
  <text x="1021.1" y="660.7" textLength="261.1" lengthAdjust="spacingAndGlyphs"><tspan fill="#e8693f">Action Required:</tspan> 5 Members need to complete</text>
  <text x="1021.1" y="676.5" textLength="172.6" lengthAdjust="spacingAndGlyphs">mandatory compliance training</text>
 </g>
</g>
</svg>
</body></html>
